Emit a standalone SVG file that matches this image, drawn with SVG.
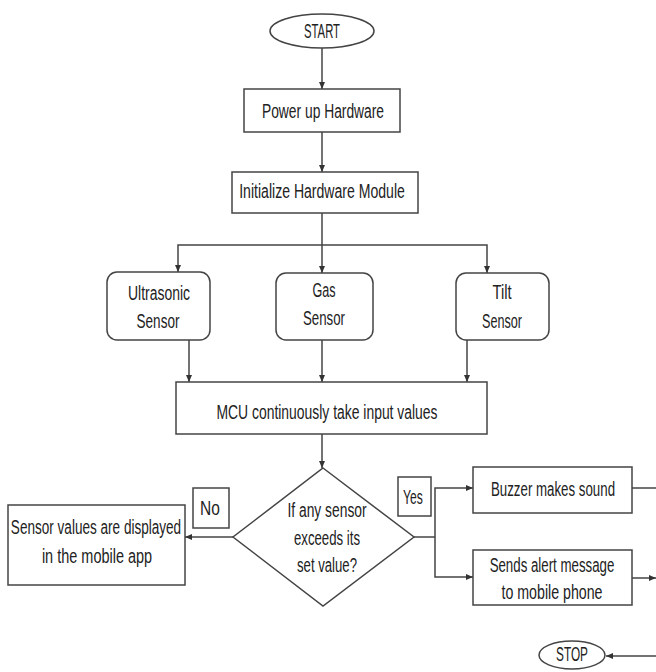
<svg xmlns="http://www.w3.org/2000/svg" width="656" height="672" viewBox="0 0 656 672">
<defs>
<marker id="ah" markerWidth="8" markerHeight="8" refX="7" refY="4" orient="auto" markerUnits="userSpaceOnUse">
<path d="M0,1 L7,4 L0,7 Z" fill="#333"/>
</marker>
<style>
.s{fill:#fff;stroke:#444;stroke-width:1.5}
.c{fill:none;stroke:#444;stroke-width:1.5}
.a{marker-end:url(#ah)}
text{font-family:"Liberation Sans",Arial,sans-serif;font-size:20px;fill:#222;text-anchor:middle}
</style>
</defs>
<rect width="656" height="672" fill="#fff"/>
<g id="connectors">
<line class="c a" x1="322" y1="48" x2="322" y2="89"/>
<line class="c a" x1="322" y1="132" x2="322" y2="172"/>
<polyline class="c" points="322,213 322,245"/>
<polyline class="c a" points="322,245 178,245 178,272"/>
<line class="c a" x1="322" y1="245" x2="322" y2="273"/>
<polyline class="c a" points="322,245 487,245 487,273"/>
<line class="c a" x1="189" y1="340" x2="189" y2="382"/>
<line class="c a" x1="322" y1="340" x2="322" y2="382"/>
<line class="c a" x1="467" y1="340" x2="467" y2="382"/>
<line class="c a" x1="322" y1="434" x2="322" y2="468"/>
<line class="c a" x1="233" y1="537" x2="185" y2="537"/>
<polyline class="c" points="414,537 435,537"/>
<polyline class="c a" points="435,537 435,488 473,488"/>
<polyline class="c a" points="435,537 435,577 473,577"/>
<line class="c" x1="632" y1="488" x2="656" y2="488"/>
<line class="c a" x1="632" y1="578" x2="656" y2="578"/>
<line class="c a" x1="656" y1="656" x2="606" y2="656"/>
</g>
<g id="start">
<ellipse class="s" cx="322" cy="31" rx="52" ry="17"/>
<text transform="translate(322,38) scale(0.66,1)" textLength="54.5" lengthAdjust="spacingAndGlyphs">START</text>
</g>
<g id="power">
<rect class="s" x="244" y="89" width="156" height="43"/>
<text transform="translate(323,118) scale(0.66,1)" textLength="185" lengthAdjust="spacingAndGlyphs">Power up Hardware</text>
</g>
<g id="init">
<rect class="s" x="232" y="172" width="186" height="41"/>
<text transform="translate(322,198) scale(0.66,1)" textLength="251" lengthAdjust="spacingAndGlyphs">Initialize Hardware Module</text>
</g>
<g id="ultrasonic">
<rect class="s" x="107" y="272" width="103" height="68" rx="10"/>
<text transform="translate(159,300) scale(0.66,1)" textLength="94" lengthAdjust="spacingAndGlyphs">Ultrasonic</text>
<text transform="translate(158,328) scale(0.66,1)" textLength="65" lengthAdjust="spacingAndGlyphs">Sensor</text>
</g>
<g id="gas">
<rect class="s" x="276" y="273" width="97" height="67" rx="10"/>
<text transform="translate(324,297) scale(0.66,1)" textLength="35" lengthAdjust="spacingAndGlyphs">Gas</text>
<text transform="translate(324,325) scale(0.66,1)" textLength="63.6" lengthAdjust="spacingAndGlyphs">Sensor</text>
</g>
<g id="tilt">
<rect class="s" x="456" y="273" width="93" height="67" rx="10"/>
<text transform="translate(502,299) scale(0.66,1)" textLength="29" lengthAdjust="spacingAndGlyphs">Tilt</text>
<text transform="translate(502,328) scale(0.66,1)" textLength="60.6" lengthAdjust="spacingAndGlyphs">Sensor</text>
</g>
<g id="mcu">
<rect class="s" x="176" y="382" width="311" height="52"/>
<text transform="translate(327,419) scale(0.66,1)" textLength="335" lengthAdjust="spacingAndGlyphs">MCU continuously take input values</text>
</g>
<g id="decision">
<polygon class="s" points="323,468 414,537 323,606 233,537"/>
<text transform="translate(327,517) scale(0.66,1)" textLength="120" lengthAdjust="spacingAndGlyphs">If any sensor</text>
<text transform="translate(327,545) scale(0.66,1)" textLength="100" lengthAdjust="spacingAndGlyphs">exceeds its</text>
<text transform="translate(327,572) scale(0.66,1)" textLength="91" lengthAdjust="spacingAndGlyphs">set value?</text>
</g>
<g id="no-label">
<rect class="s" x="193" y="488" width="36" height="40"/>
<text transform="translate(210,515) scale(0.66,1)" textLength="30" lengthAdjust="spacingAndGlyphs">No</text>
</g>
<g id="yes-label">
<rect class="s" x="398" y="477" width="33" height="39"/>
<text transform="translate(413,504) scale(0.66,1)" textLength="30" lengthAdjust="spacingAndGlyphs">Yes</text>
</g>
<g id="display">
<rect class="s" x="8" y="505" width="177" height="80"/>
<text transform="translate(96,534) scale(0.66,1)" textLength="258" lengthAdjust="spacingAndGlyphs">Sensor values are displayed</text>
<text transform="translate(97,563) scale(0.66,1)" textLength="167" lengthAdjust="spacingAndGlyphs">in the mobile app</text>
</g>
<g id="buzzer">
<rect class="s" x="473" y="467" width="159" height="46"/>
<text transform="translate(553,496) scale(0.66,1)" textLength="188" lengthAdjust="spacingAndGlyphs">Buzzer makes sound</text>
</g>
<g id="alert">
<rect class="s" x="473" y="550" width="159" height="55"/>
<text transform="translate(552,572) scale(0.66,1)" textLength="189" lengthAdjust="spacingAndGlyphs">Sends alert message</text>
<text transform="translate(552,599) scale(0.66,1)" textLength="153" lengthAdjust="spacingAndGlyphs">to mobile phone</text>
</g>
<g id="stop">
<ellipse class="s" cx="572" cy="655" rx="33" ry="14"/>
<text transform="translate(572,661) scale(0.66,1)" textLength="48.5" lengthAdjust="spacingAndGlyphs">STOP</text>
</g>
</svg>
